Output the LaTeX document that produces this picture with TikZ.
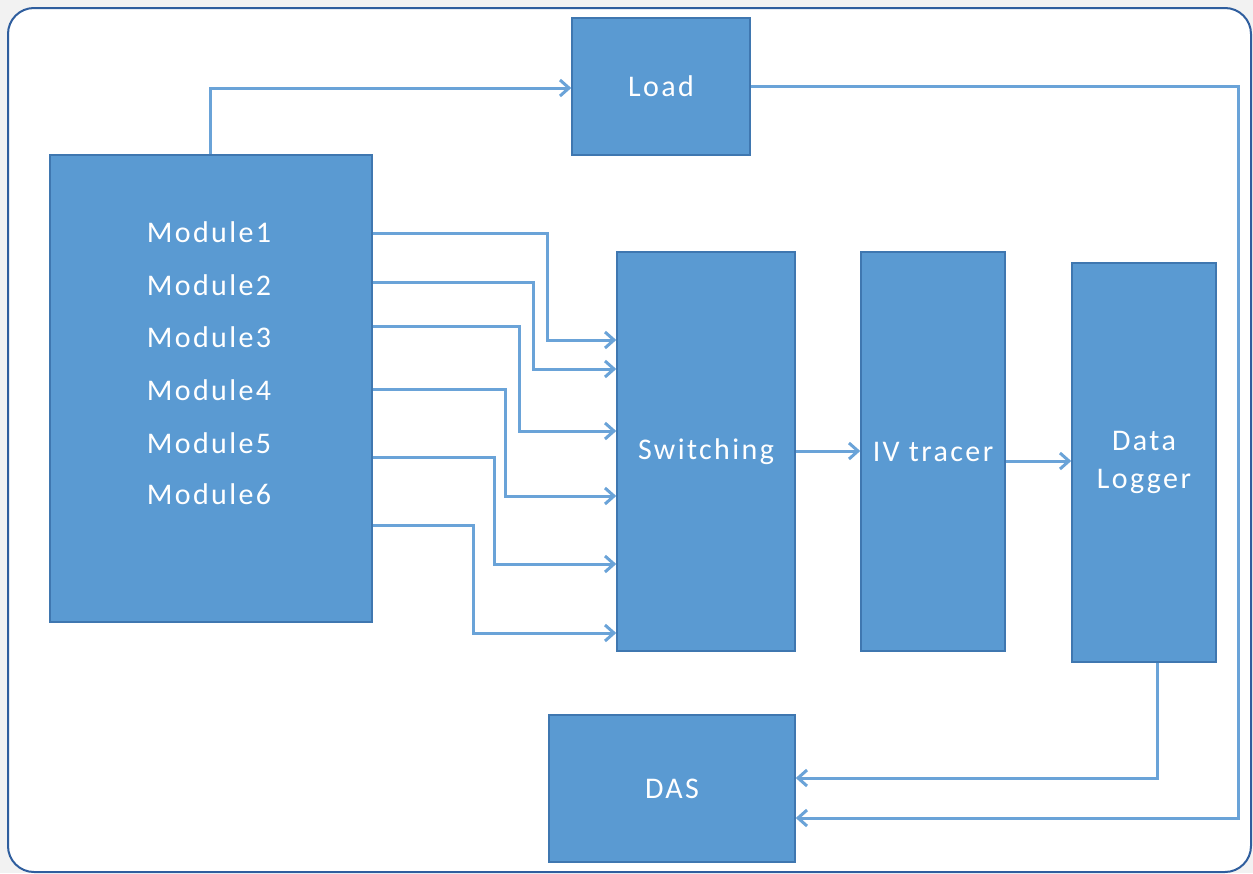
\documentclass[tikz,border=0pt]{standalone}
\usepackage{fontspec}
\setmainfont{Carlito}[LetterSpace=8]
\usetikzlibrary{arrows.meta,calc}
\definecolor{boxfill}{HTML}{5A9AD2}
\definecolor{boxedge}{HTML}{3F77B0}
\definecolor{wirecol}{HTML}{6AA3D8}
\definecolor{framecol}{HTML}{2F5E9E}
\begin{document}
\begin{tikzpicture}[x=1pt, y=-1pt,
  blk/.style = {draw=boxedge, fill=boxfill, line width=1.5pt, inner sep=0pt,
                text=white, font=\fontsize{30}{38}\selectfont, align=center},
  lbl/.style = {text=white, font=\fontsize{30}{32}\selectfont},
  wire/.style = {draw=wirecol, line width=3pt, -{Straight Barb[length=9pt,width=16pt]}}]
\fill[black!5] (0,0) rectangle (1253,873);
\filldraw[fill=white, draw=framecol, line width=2pt, rounded corners=26pt] (8,8) rectangle (1251,872);
\useasboundingbox (0,0) rectangle (1253,873);
% blocks
\node[blk, minimum width=322pt, minimum height=467pt] (mods) at (211,388.5) {};
\node[blk, minimum width=178pt, minimum height=137pt] (load) at (661,86.5) {Load};
\node[blk, minimum width=178pt, minimum height=399pt] (sw) at (706,451.5) {Switching};
\node[blk, minimum width=144pt, minimum height=399pt] (iv) at (933,451.5) {IV tracer};
\node[blk, minimum width=144pt, minimum height=399pt] (dl) at (1144,462.5) {Data\\Logger};
\node[blk, minimum width=246pt, minimum height=147pt] (das) at (672,788.5) {DAS};
% module names
\foreach \i/\y in {1/232,2/285,3/337,4/390,5/443,6/494}
  \node[lbl] (m\i) at (209,\y) {Module\i};
% module lines into switching
\foreach \i/\ya/\xt/\yb in {1/233/547/340,2/282/533/369,3/326/519/431,4/389/505/496,5/457/494/564,6/525/473/633}
  \draw[wire] (mods.east |- 0,\ya) -| (\xt,\yb) -- (sw.west |- 0,\yb);
% other connectors
\draw[wire] (mods.north -| 210,0) |- (load.west |- 0,88);
\draw[wire] (sw.east |- 0,451) -- (iv.west |- 0,451);
\draw[wire] (iv.east |- 0,461) -- (dl.west |- 0,461);
\coordinate (rt) at (1238,86);
\draw[wire] (load.east |- rt) -- (rt) |- (das.east |- 0,818);
\draw[wire] (dl.south -| 1157,0) |- (das.east |- 0,778);
\end{tikzpicture}
\end{document}
